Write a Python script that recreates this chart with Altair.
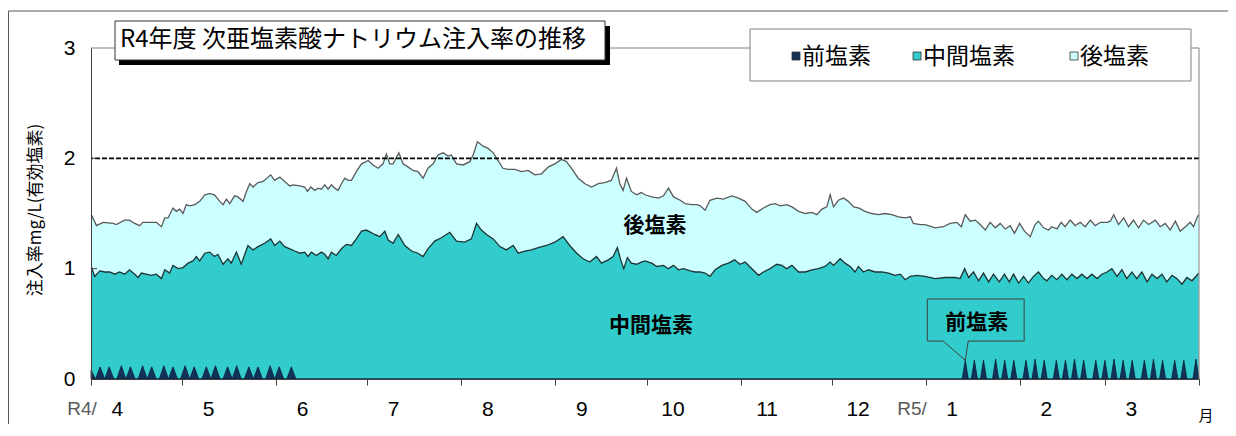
import altair as alt
import pandas as pd

# ---------------- data ----------------
# day index from 2022-04-01 (0) to 2023-03-31 (364); top of 後塩素 (= total injection rate)
TOTAL_DAY = [0.1, 1.8, 4.0, 7.3, 8.3, 11.1, 12.7, 14.4, 16.0, 17.1, 19.9, 21.5, 23.2, 24.3, 25.4, 27.0, 28.1, 29.2,
             30.3, 31.4, 32.5, 34.2, 35.8, 37.5, 39.1, 40.7, 42.4, 43.5, 44.6, 45.7, 47.3, 48.4, 50.1, 51.2, 52.3,
             53.4, 55.0, 56.7, 59.2, 60.5, 62.2, 63.8, 65.5, 66.6, 68.8, 70.4, 71.3, 72.4, 73.7, 74.8, 75.9, 77.0,
             78.1, 79.2, 80.3, 81.4, 82.5, 83.6, 84.7, 85.8, 87.4, 89.1, 91.3,
             92.9, 94.6, 96.2, 97.3, 98.4, 99.5, 101.4, 102.8, 104.5, 106.1, 107.7, 109.4, 111.0, 112.7, 114.3, 116.0,
             117.6, 118.7, 120.4, 122.6, 124.8, 125.9, 127.3, 129.2, 130.8, 132.5, 134.1, 135.7, 137.4, 139.6, 141.8,
             144.0, 146.2, 148.4, 150.6, 152.8, 155.0, 156.6, 158.3, 160.5, 162.7, 164.9, 167.1, 169.2, 171.4, 173.1,
             174.2, 175.3, 176.4, 178.0, 179.7, 181.3,
             182.5, 184.7, 186.9, 188.6, 190.2, 191.9, 194.1, 195.7, 197.9, 199.6, 200.7, 202.3, 203.9, 206.2, 208.3,
             211.1, 213.3, 215.5, 217.7, 219.3, 221.5, 223.7, 225.4, 227.0, 229.2, 230.9, 233.1, 235.3, 237.5, 239.1,
             240.8, 242.4, 243.5, 244.6, 246.2, 247.9, 249.5, 251.2, 252.8, 255.0, 257.2, 259.4, 261.6, 263.8, 266.0,
             268.2, 269.9, 270.9, 273.2,
             274.8, 278.1, 280.8, 283.0, 285.2, 286.7, 288.0, 289.6, 291.3, 292.9, 294.6, 296.2, 297.9, 299.5, 301.2,
             302.8, 304.2, 305.9, 307.5, 309.4, 311.0, 312.1, 313.8, 315.4, 316.5, 318.2, 319.6, 320.9, 322.6, 324.2,
             325.9, 327.5, 329.2, 330.8, 332.5, 334.7, 335.8, 336.9, 338.5, 340.2, 341.8, 343.4, 345.1, 346.7, 348.4,
             350.6, 352.2, 353.9, 355.5, 357.2, 358.8, 360.5, 362.1, 363.2, 364.3, 364.9]
TOTAL_VAL = [1.49, 1.39, 1.42, 1.41, 1.40, 1.44, 1.44, 1.41, 1.39, 1.42, 1.42, 1.42, 1.38, 1.46, 1.46, 1.55, 1.52, 1.54,
             1.50, 1.58, 1.57, 1.58, 1.61, 1.67, 1.68, 1.67, 1.61, 1.58, 1.63, 1.59, 1.66, 1.65, 1.61, 1.70, 1.77,
             1.74, 1.78, 1.79, 1.85, 1.80, 1.83, 1.79, 1.75, 1.76, 1.75, 1.74, 1.70, 1.74, 1.71, 1.73, 1.72, 1.76,
             1.72, 1.76, 1.73, 1.71, 1.77, 1.82, 1.80, 1.80, 1.88, 1.95, 1.98,
             1.94, 1.91, 1.95, 2.04, 1.95, 1.95, 2.05, 1.95, 1.92, 1.89, 1.88, 1.82, 1.91, 1.95, 2.03, 2.05,
             2.02, 2.03, 1.95, 1.94, 1.97, 2.03, 2.15, 2.11, 2.09, 2.05, 1.98, 1.91, 1.90, 1.90, 1.88,
             1.89, 1.85, 1.86, 1.92, 1.95, 1.99, 1.97, 1.91, 1.82, 1.77, 1.74, 1.77, 1.78, 1.80, 1.91,
             1.77, 1.71, 1.82, 1.70, 1.67, 1.69,
             1.67, 1.65, 1.64, 1.66, 1.73, 1.65, 1.62, 1.59, 1.58, 1.58, 1.57, 1.53, 1.62, 1.64, 1.63,
             1.66, 1.64, 1.61, 1.54, 1.51, 1.55, 1.58, 1.59, 1.57, 1.58, 1.56, 1.52, 1.50, 1.51, 1.49,
             1.54, 1.56, 1.67, 1.56, 1.62, 1.64, 1.61, 1.56, 1.55, 1.52, 1.50, 1.49, 1.50, 1.49, 1.47,
             1.46, 1.47, 1.41, 1.40,
             1.40, 1.37, 1.38, 1.41, 1.42, 1.38, 1.49, 1.43, 1.44, 1.40, 1.35, 1.42, 1.37, 1.41, 1.36,
             1.39, 1.32, 1.41, 1.34, 1.29, 1.40, 1.43, 1.37, 1.35, 1.38, 1.36, 1.42, 1.38, 1.44, 1.39,
             1.42, 1.38, 1.44, 1.39, 1.42, 1.42, 1.43, 1.49, 1.40, 1.46, 1.38, 1.44, 1.37, 1.44, 1.40,
             1.44, 1.38, 1.41, 1.35, 1.43, 1.34, 1.38, 1.42, 1.38, 1.46, 1.49]

# top of 中間塩素 (前塩素 + 中間塩素)
MID_DAY = [0.1, 1.2, 2.9, 4.5, 6.2, 7.8, 9.4, 11.1, 12.7, 14.4, 15.5, 16.6, 18.2, 19.9, 21.5, 23.2, 24.3, 25.9, 27.0,
           28.7, 30.3, 32.0, 33.6, 34.7, 35.8, 37.5, 39.1, 40.7, 41.8, 43.5, 45.1, 46.2, 47.9, 49.5, 51.7, 53.4,
           55.0, 57.2, 59.2, 60.5, 62.2, 63.8, 65.5, 67.1, 68.8, 70.4, 71.5, 72.6, 74.2, 75.9, 77.0, 78.1, 79.2,
           80.8, 82.5, 84.1, 85.8, 87.4, 89.1, 90.7,
           93.5, 95.1, 96.8, 97.9, 99.5, 101.2, 103.4, 105.6, 107.7, 109.4, 111.0, 113.2, 115.4, 118.2, 120.4, 123.1,
           125.3, 127.0, 128.6, 130.3, 132.5, 134.7, 136.8, 139.1, 140.7, 142.9, 145.1, 147.3, 150.0, 152.8, 155.5,
           157.7, 160.0, 162.1, 164.3, 166.5, 168.2, 170.4, 172.0, 173.4, 174.5, 175.5, 176.7, 178.0, 179.7, 181.3,
           182.5, 184.7, 186.4, 188.6, 190.2, 191.9, 193.5, 195.2, 197.4, 199.0, 200.7, 202.3, 203.9, 205.6, 207.8,
           210.0, 212.0, 213.8, 215.5, 217.7, 219.9, 221.5, 223.7, 225.9, 227.6, 229.2, 230.9, 233.1, 235.3, 237.5,
           239.7, 241.8, 243.5, 244.6, 246.8, 248.4, 250.1, 251.7, 252.8, 254.5, 256.1, 258.3, 260.5, 262.7, 264.9,
           266.6, 268.2, 269.9, 272.1,
           274.8, 278.1, 281.4, 284.7, 286.3, 287.8, 289.1, 290.7, 292.4, 294.0, 295.7, 297.3, 299.2, 300.9, 302.5,
           303.9, 305.6, 307.2, 308.8, 310.5, 312.1, 313.8, 314.9, 316.5, 318.2, 319.8, 321.5, 323.1, 324.8, 326.4,
           328.1, 329.7, 331.4, 333.0, 334.7, 336.3, 338.0, 339.6, 341.2, 342.9, 344.5, 346.2, 347.9, 349.5, 351.2,
           352.8, 354.4, 356.1, 357.7, 359.4, 361.0, 362.7, 364.3, 364.9]
MID_VAL = [1.02, 0.93, 0.98, 0.97, 0.97, 0.95, 0.97, 0.95, 0.99, 0.95, 0.92, 0.96, 0.95, 0.94, 0.95, 0.91, 0.99, 0.96, 1.03,
           1.00, 1.01, 1.05, 1.07, 1.11, 1.07, 1.14, 1.15, 1.11, 1.13, 1.04, 1.09, 1.05, 1.15, 1.04, 1.21, 1.17,
           1.20, 1.23, 1.27, 1.21, 1.25, 1.20, 1.18, 1.16, 1.14, 1.15, 1.11, 1.15, 1.12, 1.15, 1.13, 1.09, 1.15,
           1.12, 1.18, 1.22, 1.21, 1.27, 1.34, 1.35,
           1.31, 1.29, 1.34, 1.26, 1.23, 1.31, 1.21, 1.16, 1.14, 1.11, 1.18, 1.25, 1.28, 1.33, 1.25, 1.24,
           1.27, 1.41, 1.35, 1.31, 1.27, 1.20, 1.17, 1.21, 1.14, 1.16, 1.17, 1.19, 1.21, 1.24, 1.29,
           1.21, 1.14, 1.09, 1.06, 1.11, 1.05, 1.08, 1.11, 1.19, 1.08, 1.00, 1.10, 1.05, 1.04, 1.06,
           1.07, 1.05, 1.02, 1.03, 1.00, 1.03, 0.99, 1.00, 0.98, 0.97, 0.97, 0.96, 0.93, 0.99, 1.03,
           1.05, 1.08, 1.04, 1.06, 1.00, 0.94, 0.97, 1.00, 1.04, 1.03, 1.00, 1.03, 0.97, 0.97, 0.99,
           1.00, 1.02, 1.06, 1.03, 1.09, 1.05, 1.02, 0.97, 1.02, 0.97, 0.99, 0.97, 0.97, 0.96, 0.94,
           0.95, 0.90, 0.93, 0.94,
           0.93, 0.91, 0.92, 0.92, 0.91, 1.00, 0.92, 0.97, 0.89, 0.96, 0.88, 0.95, 0.88, 0.95, 0.88,
           0.95, 0.87, 0.93, 0.87, 0.93, 0.97, 0.91, 0.89, 0.94, 0.90, 0.95, 0.90, 0.95, 0.91, 0.95,
           0.91, 0.95, 0.91, 0.95, 0.97, 1.00, 0.93, 0.99, 0.91, 0.97, 0.91, 0.97, 0.88, 0.95, 0.91,
           0.95, 0.88, 0.94, 0.91, 0.86, 0.92, 0.89, 0.94, 0.96]

# 前塩素: injection days (about twice a week) and their rates; 0 on other days
PRE_SPIKE_DAY = [0, 3, 6, 10, 13, 17, 20, 24, 27, 31, 34, 38, 41, 45, 48, 52, 55, 59, 62, 66,
                 288, 291, 294, 298, 301, 304, 308, 311, 314, 318, 321, 324, 327, 331, 334, 337, 340, 343,
                 347, 350, 353, 357, 360, 364]
PRE_SPIKE_VAL = [0.08, 0.11, 0.11, 0.12, 0.11, 0.12, 0.11, 0.12, 0.11, 0.12, 0.11, 0.11, 0.12, 0.11, 0.12, 0.11,
                 0.11, 0.12, 0.11, 0.11,
                 0.17, 0.17, 0.17, 0.18, 0.17, 0.17, 0.17, 0.18, 0.17, 0.17, 0.17, 0.18, 0.17, 0.17, 0.17, 0.18,
                 0.17, 0.17, 0.17, 0.18, 0.17, 0.17, 0.17, 0.18]

MONTH_LABELS = ["4", "5", "6", "7", "8", "9", "10", "11", "12", "1", "2", "3"]
MONTH_START = [0, 30, 61, 91, 122, 153, 183, 214, 244, 275, 306, 334]
YEAR_DAYS = 365
Y_TICKS = [0, 1, 2, 3]
REF_LEVEL = [2.0]

SERIES = ["前塩素", "中間塩素", "後塩素"]
COLORS = ["#13325a", "#33cccc", "#ccffff"]
TITLE = "R4年度 次亜塩素酸ナトリウム注入率の推移"
Y_TITLE = "注入率mg/L(有効塩素)"

# ---------------- styling ----------------
W, H = 1108, 331
JP = "Noto Sans CJK JP"
NUM = "Liberation Sans Narrow, Liberation Sans, Arial, sans-serif"
SPIKE_HALF_SPRING = 1.5   # drawn base half-width of the spring spikes (days)
SPIKE_HALF_WINTER = 1.0

xs = alt.Scale(domain=[0, YEAR_DAYS], nice=False, zero=False)
ys = alt.Scale(domain=[0, 3], nice=False, zero=True)

x_axis = alt.Axis(values=MONTH_START + [YEAR_DAYS], labels=False, ticks=True, tickSize=6,
                  tickColor="#404040", domainColor="#404040", grid=False, title=None, zindex=1)
y_axis = alt.Axis(values=Y_TICKS, ticks=False, tickSize=0, labelPadding=16, labelFont=NUM,
                  labelFontSize=21, labelColor="#000000", domainColor="#404040", grid=False,
                  title=None, zindex=1, format="d")


def X(field=None, datum=None):
    if datum is not None:
        return alt.X(datum=datum, scale=xs, axis=x_axis)
    return alt.X(field, scale=xs, axis=x_axis)


def Y(field=None, datum=None):
    if datum is not None:
        return alt.Y(datum=datum, scale=ys, axis=y_axis)
    return alt.Y(field, scale=ys, axis=y_axis)


df_total = pd.DataFrame({"day": TOTAL_DAY, "val": TOTAL_VAL})
df_mid = pd.DataFrame({"day": MID_DAY, "val": MID_VAL})
pre_rows = []
for d, v in zip(PRE_SPIKE_DAY, PRE_SPIKE_VAL):
    hw = SPIKE_HALF_SPRING if d < 180 else SPIKE_HALF_WINTER
    for dd, vv in ((d - hw, 0.0), (d, v), (d + hw, 0.0)):
        if 0 <= dd <= YEAR_DAYS:
            pre_rows.append({"day": dd, "val": vv})
df_pre = pd.DataFrame(pre_rows).sort_values("day", kind="stable")
df_month = pd.DataFrame({"label": MONTH_LABELS, "start": MONTH_START})
df_ref = pd.DataFrame({"v": REF_LEVEL})
df_ytick = pd.DataFrame({"v": [t for t in Y_TICKS if 0 < t < 3]})
one = pd.DataFrame({"k": [0]})

layers = []

# outer chart frame (left / top)
layers.append(alt.Chart(one).mark_rule(color="#595959", strokeWidth=1).encode(
    x=alt.value(-82.5), y=alt.value(-37), y2=alt.value(H + 60)))
layers.append(alt.Chart(one).mark_rule(color="#595959", strokeWidth=1).encode(
    x=alt.value(-82.5), x2=alt.value(W + 40), y=alt.value(-37)))

# areas
layers.append(alt.Chart(df_total).mark_area(color=COLORS[2], opacity=1).encode(
    x=X("day:Q"), y=Y("val:Q")))
layers.append(alt.Chart(df_mid).mark_area(color=COLORS[1], opacity=1).encode(
    x=X("day:Q"), y=Y("val:Q")))
layers.append(alt.Chart(df_pre).mark_area(color=COLORS[0], opacity=1, stroke="#0a1d33",
                                          strokeWidth=0.8).encode(
    x=X("day:Q"), y=Y("val:Q")))
layers.append(alt.Chart(df_total).mark_line(color="#5a5a5a", strokeWidth=1.3).encode(
    x=X("day:Q"), y=Y("val:Q")))
layers.append(alt.Chart(df_mid).mark_line(color="#1f3333", strokeWidth=1.3).encode(
    x=X("day:Q"), y=Y("val:Q")))

# reference level (dashed)
layers.append(alt.Chart(df_ref).mark_rule(color="#000000", strokeWidth=1.8, strokeDash=[5, 2]).encode(
    y=Y("v:Q")))

# inner y ticks
layers.append(alt.Chart(df_ytick).mark_rule(color="#404040", strokeWidth=1).encode(
    x=alt.value(0), x2=alt.value(6), y=Y("v:Q")))

# plot frame (top / right)
layers.append(alt.Chart(one).mark_rule(color="#808080", strokeWidth=1).encode(
    x=alt.value(0), x2=alt.value(W), y=alt.value(0)))
layers.append(alt.Chart(one).mark_rule(color="#808080", strokeWidth=1).encode(
    x=alt.value(W), y=alt.value(0), y2=alt.value(H)))

# callout for 前塩素 (points at the first spike of January)
tip_day, tip_val = PRE_SPIKE_DAY[20], PRE_SPIKE_VAL[20]
callout = pd.DataFrame({
    "i": list(range(8)),
    "day": [tip_day - 7.3, tip_day - 12.5, tip_day - 12.5, tip_day + 19.4, tip_day + 19.4, tip_day + 1.0,
            tip_day, tip_day - 7.3],
    "val": [0.344, 0.344, 0.725, 0.725, 0.344, 0.344, tip_val, 0.344],
})
layers.append(alt.Chart(callout).mark_line(color="#404040", strokeWidth=1).encode(
    x=X("day:Q"), y=Y("val:Q"), order="i:Q"))
layers.append(alt.Chart(one).mark_text(text=SERIES[0], font=JP, fontSize=21, fontWeight="bold",
                                       color="#000000", baseline="middle", align="center").encode(
    x=X(datum=tip_day + 3.8), y=Y(datum=0.51)))

# in-area labels
layers.append(alt.Chart(one).mark_text(text=SERIES[2], font=JP, fontSize=21, fontWeight="bold",
                                       color="#000000", baseline="middle", align="center").encode(
    x=X(datum=185.8), y=Y(datum=1.39)))
layers.append(alt.Chart(one).mark_text(text=SERIES[1], font=JP, fontSize=21, fontWeight="bold",
                                       color="#000000", baseline="middle", align="center").encode(
    x=X(datum=184.5), y=Y(datum=0.48)))

# month labels
layers.append(alt.Chart(df_month).transform_calculate(pos="datum.start + 8.7").mark_text(
    font=NUM, fontSize=21, color="#000000", baseline="middle", align="center").encode(
    x=X("pos:Q"), y=alt.value(H + 31), text="label:N"))
layers.append(alt.Chart(one).mark_text(text="R4/", font="Liberation Sans", fontSize=19, color="#595959",
                                       baseline="middle", align="center").encode(
    x=alt.value(-9), y=alt.value(H + 30)))
layers.append(alt.Chart(one).mark_text(text="R5/", font="Liberation Sans", fontSize=19, color="#595959",
                                       baseline="middle", align="center").encode(
    x=alt.value(821), y=alt.value(H + 30)))
layers.append(alt.Chart(one).mark_text(text="月", font=JP, fontSize=15, color="#000000",
                                       baseline="middle", align="center").encode(
    x=alt.value(1115), y=alt.value(H + 37)))

# y-axis title
layers.append(alt.Chart(one).mark_text(text=Y_TITLE, font=JP, fontSize=17, color="#000000", angle=270,
                                       baseline="middle", align="center").encode(
    x=alt.value(-55), y=alt.value(162)))

# title box with shadow
layers.append(alt.Chart(one).mark_rect(color="#000000").encode(
    x=alt.value(28), x2=alt.value(519), y=alt.value(-22), y2=alt.value(17)))
layers.append(alt.Chart(one).mark_rect(fill="#ffffff", stroke="#333333", strokeWidth=1).encode(
    x=alt.value(24), x2=alt.value(514), y=alt.value(-27), y2=alt.value(12)))
layers.append(alt.Chart(one).mark_text(text=TITLE, font=JP, fontSize=24, color="#000000",
                                       baseline="middle", align="left").encode(
    x=alt.value(29), y=alt.value(-8)))

# legend box
layers.append(alt.Chart(one).mark_rect(fill="#ffffff", stroke="#808080", strokeWidth=1).encode(
    x=alt.value(659), x2=alt.value(1100), y=alt.value(-19), y2=alt.value(33)))
LEG_X = [701, 822, 979]
for name, col, lx in zip(SERIES, COLORS, LEG_X):
    layers.append(alt.Chart(one).mark_rect(fill=col, stroke="#333333", strokeWidth=0.8).encode(
        x=alt.value(lx), x2=alt.value(lx + 8), y=alt.value(4), y2=alt.value(12)))
    layers.append(alt.Chart(one).mark_text(text=name, font=JP, fontSize=23, color="#000000",
                                           baseline="middle", align="left").encode(
        x=alt.value(lx + 10), y=alt.value(8.5)))

chart = alt.layer(*layers).properties(
    width=W, height=H,
    autosize=alt.AutoSizeParams(type="none"),
    padding={"left": 83, "top": 40, "right": 29, "bottom": 45},
    background="#ffffff",
).configure_view(strokeWidth=0)

chart.save("out.html", embed_options={"renderer": "svg", "actions": False})
